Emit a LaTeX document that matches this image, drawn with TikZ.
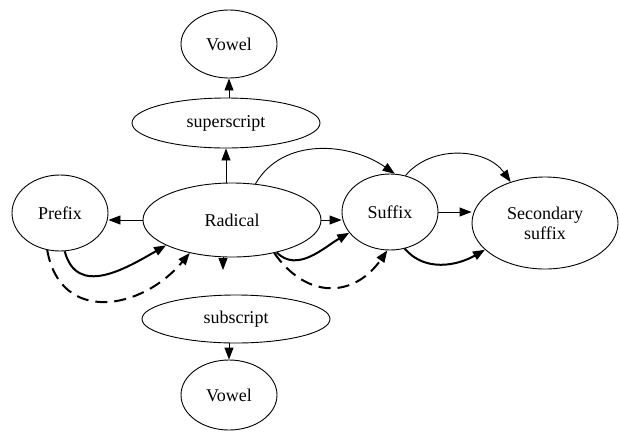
\documentclass[tikz,border=0pt]{standalone}
\usepackage{fontspec}
\setmainfont{Liberation Serif}
\usetikzlibrary{shapes.geometric, arrows.meta}

\begin{document}
\begin{tikzpicture}[x=1pt, y=-1pt,
		part/.style={draw, ellipse, inner sep=0pt, line width=0.9pt, align=center, font=\fontsize{18}{20}\selectfont},
		link/.style={-{Triangle[length=12pt,width=9pt]}, line width=0.9pt},
		strong/.style={link, line width=2pt},
		weak/.style={strong, dash pattern=on 12pt off 7pt}]
	\useasboundingbox (0,0) rectangle (620,432);

	% the morphemes
	\node[part, minimum width=96, minimum height=68] (vowelup) at (229,44) {Vowel};
	\node[part, minimum width=188, minimum height=50] (super) at (226,123) {superscript};
	\node[part, minimum width=178, minimum height=74] (radical) at (232,220) {Radical};
	\node[part, minimum width=96, minimum height=76] (prefix) at (60,213) {Prefix};
	\node[part, minimum width=96, minimum height=76] (suffix) at (390,212) {Suffix};
	\node[part, minimum width=146, minimum height=92] (second) at (545,223) {Secondary\\suffix};
	\node[part, minimum width=188, minimum height=48] (sub) at (236,319) {subscript};
	\node[part, minimum width=96, minimum height=70] (voweldown) at (229,395) {Vowel};
	\coordinate (subtip) at (223,270);

	% straight links
	\begin{scope}[link]
		\draw (super.north -| vowelup) -- (vowelup.south);
		\draw (radical.north -| super) -- (super.south);
		\draw (radical.west) -- (prefix.east |- radical.west);
		\draw (radical.south -| subtip) -- (subtip);
		\draw (sub.south -| voweldown) -- (voweldown.north);
		\draw (radical.east) -- (suffix.west |- radical.east);
		\draw (suffix.east) -- (second.west |- suffix.east);
	\end{scope}

	% curved links
	\draw[strong] (prefix.-83) to[out=-75, in=-150, looseness=1.2] (radical.-159);
	\draw[weak] (prefix.-109) to[out=-80, in=-130, looseness=1.35] (radical.-142);
	\draw[strong] (radical.-36) to[out=-45, in=-150] (suffix.-153);
	\draw[weak] (radical.-38) to[out=-55, in=-125, looseness=1.3] (suffix.-94);
	\draw[strong] (suffix.-68) to[out=-50, in=-150] (second.-156);
	\draw[link] (radical.57) to[out=60, in=145] (suffix.83);
	\draw[link] (suffix.67) to[out=50, in=125] (second.130);
\end{tikzpicture}
\end{document}
